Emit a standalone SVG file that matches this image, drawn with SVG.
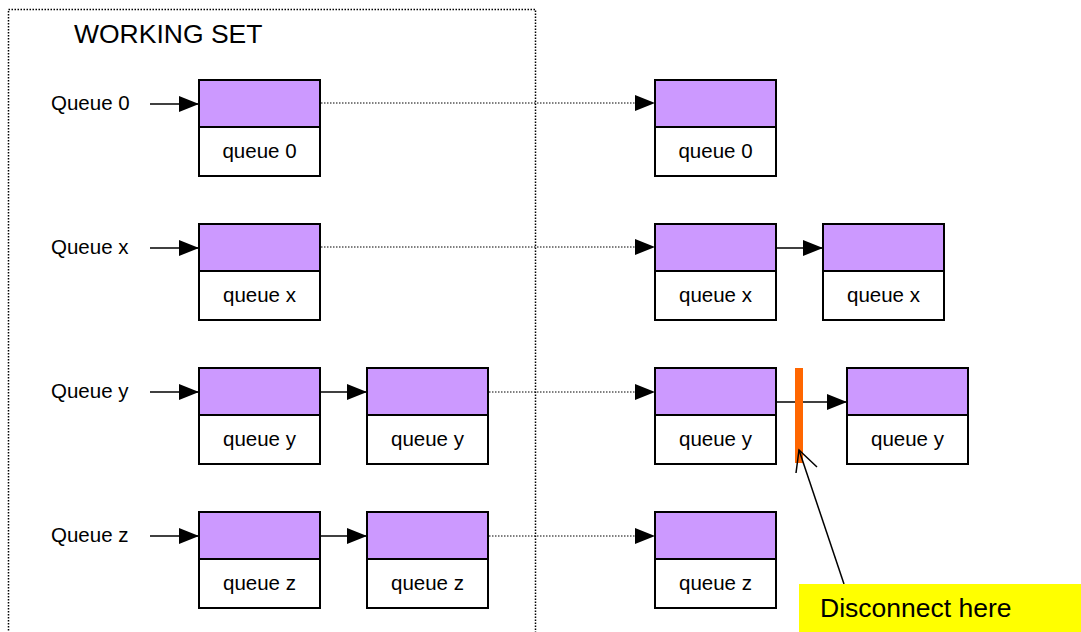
<svg xmlns="http://www.w3.org/2000/svg" width="1081" height="632" viewBox="0 0 1081 632">
<style>
text{font-family:"Liberation Sans",Arial,sans-serif;fill:#000}
.lbl{font-size:20.5px}
.c{font-size:20.5px;text-anchor:middle}
.top{fill:#cc99ff;stroke:#000;stroke-width:2}
.bot{fill:#fff;stroke:#000;stroke-width:2}
.ln{stroke:#000;stroke-width:1.5;fill:none}
.dot{stroke:#000;stroke-width:1;stroke-dasharray:1.5 1.5;fill:none}
</style>
<defs>
<marker id="ah" markerWidth="20" markerHeight="16" refX="20" refY="8" orient="auto" markerUnits="userSpaceOnUse">
<path d="M0,0 L20,8 L0,16 Z" fill="#000"/>
</marker>
<symbol id="box" overflow="visible">
<rect class="top" x="0" y="0" width="121" height="47"/>
<rect class="bot" x="0" y="47" width="121" height="49"/>
</symbol>
</defs>
<rect width="1081" height="632" fill="#fff"/>
<g id="working-set">
<rect x="8.5" y="9.5" width="527" height="640" fill="none" stroke="#000" stroke-width="1.5" stroke-dasharray="1.5 1.5"/>
<text x="74" y="43" font-size="26.5px">WORKING SET</text>
</g>
<g id="labels">
<text class="lbl" x="51" y="110">Queue 0</text>
<text class="lbl" x="51" y="254">Queue x</text>
<text class="lbl" x="51" y="398">Queue y</text>
<text class="lbl" x="51" y="542">Queue z</text>
</g>
<g id="n0a"><use href="#box" x="199" y="80"/><text class="c" x="259.5" y="158">queue 0</text></g>
<g id="n0b"><use href="#box" x="655" y="80"/><text class="c" x="715.5" y="158">queue 0</text></g>
<g id="nxa"><use href="#box" x="199" y="224"/><text class="c" x="259.5" y="302">queue x</text></g>
<g id="nxb"><use href="#box" x="655" y="224"/><text class="c" x="715.5" y="302">queue x</text></g>
<g id="nxc"><use href="#box" x="823" y="224"/><text class="c" x="883.5" y="302">queue x</text></g>
<g id="nya"><use href="#box" x="199" y="368"/><text class="c" x="259.5" y="446">queue y</text></g>
<g id="nyb"><use href="#box" x="367" y="368"/><text class="c" x="427.5" y="446">queue y</text></g>
<g id="nyc"><use href="#box" x="655" y="368"/><text class="c" x="715.5" y="446">queue y</text></g>
<g id="nyd"><use href="#box" x="847" y="368"/><text class="c" x="907.5" y="446">queue y</text></g>
<g id="nza"><use href="#box" x="199" y="512"/><text class="c" x="259.5" y="590">queue z</text></g>
<g id="nzb"><use href="#box" x="367" y="512"/><text class="c" x="427.5" y="590">queue z</text></g>
<g id="nzc"><use href="#box" x="655" y="512"/><text class="c" x="715.5" y="590">queue z</text></g>
<g id="connectors">
<line class="ln" x1="150" y1="104" x2="199" y2="104" marker-end="url(#ah)"/>
<line class="ln" x1="150" y1="248" x2="199" y2="248" marker-end="url(#ah)"/>
<line class="ln" x1="150" y1="392" x2="199" y2="392" marker-end="url(#ah)"/>
<line class="ln" x1="150" y1="536" x2="199" y2="536" marker-end="url(#ah)"/>
<line class="ln" x1="320" y1="392" x2="367" y2="392" marker-end="url(#ah)"/>
<line class="ln" x1="320" y1="536" x2="367" y2="536" marker-end="url(#ah)"/>
<line class="dot" x1="321" y1="103" x2="640" y2="103"/>
<path d="M635,95 L655,103 L635,111 Z"/>
<line class="dot" x1="321" y1="247" x2="640" y2="247"/>
<path d="M635,239 L655,247 L635,255 Z"/>
<line class="dot" x1="489" y1="392" x2="640" y2="392"/>
<path d="M635,384 L655,392 L635,400 Z"/>
<line class="dot" x1="489" y1="536" x2="640" y2="536"/>
<path d="M635,528 L655,536 L635,544 Z"/>
<line class="ln" x1="776" y1="248" x2="823" y2="248" marker-end="url(#ah)"/>
<line class="ln" x1="776" y1="402" x2="847" y2="402" marker-end="url(#ah)"/>
</g>
<g id="disconnect-bar">
<rect x="795" y="368" width="8" height="95" fill="#ff6600"/>
</g>
<g id="pointer">
<line class="ln" x1="844" y1="584" x2="799" y2="450"/>
<polyline class="ln" points="796,473 799,450 817,467"/>
</g>
<g id="note">
<rect x="799" y="584" width="282" height="48" fill="#ffff00"/>
<text x="820" y="617" font-size="26.5px">Disconnect here</text>
</g>
</svg>
